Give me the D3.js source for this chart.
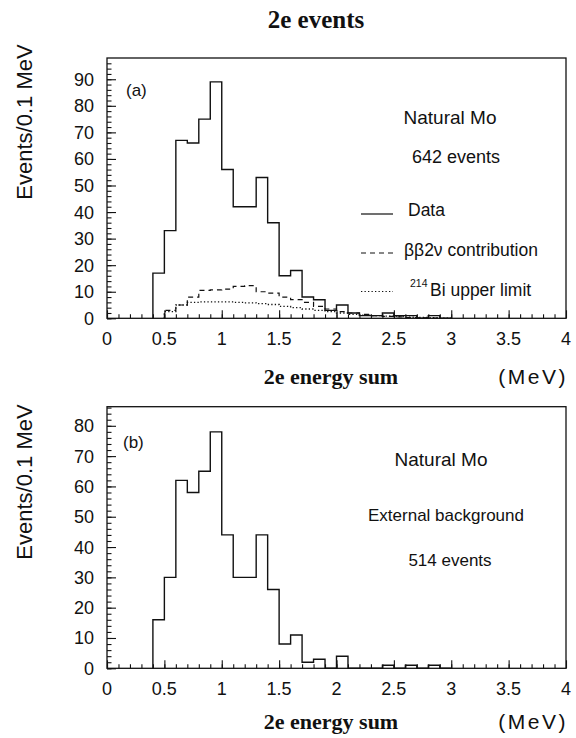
<!DOCTYPE html>
<html>
<head>
<meta charset="utf-8">
<script src="https://cdn.jsdelivr.net/npm/d3@7"></script>
<style>
  html, body { margin: 0; padding: 0; background: #fff; }
  svg { display: block; }
  .sans { font-family: "Liberation Sans", Arial, Helvetica, sans-serif; fill: #111; }
  .serif { font-family: "Liberation Serif", "Times New Roman", serif; font-weight: bold; fill: #111; }
</style>
</head>
<body>
<svg id="chart" width="576" height="738"></svg>
<script>
// ---------- DATA ----------
const binLo = [0.4,0.5,0.6,0.7,0.8,0.9,1.0,1.1,1.2,1.3,1.4,1.5,1.6,1.7,1.8,1.9,2.0,2.1,2.2,2.3,2.4,2.5,2.6,2.7,2.8,2.9];
const binWidth = 0.1;
// (a) Natural Mo, 642 events
const dataA = [17,33,67,66,75,89,56,42,42,53,36,16,18,8,7,3,5,2,1,1,2,1,1,0,1,0];
// ββ2ν contribution (bins starting at 0.5)
const betaLo = [0.5,0.6,0.7,0.8,0.9,1.0,1.1,1.2,1.3,1.4,1.5,1.6,1.7,1.8,1.9,2.0,2.1,2.2,2.3,2.4,2.5,2.6,2.7,2.8];
const betaA = [3,5,8,10.5,10.7,11,12,12.3,10,9.5,8,7,6,4.5,3.5,2.5,2,1.5,1,0.7,0.5,0.3,0.2,0.1];
// 214Bi upper limit (bins starting at 0.5)
const biLo = [0.5,0.6,0.7,0.8,0.9,1.0,1.1,1.2,1.3,1.4,1.5,1.6,1.7,1.8,1.9,2.0,2.1,2.2,2.3,2.4,2.5,2.6,2.7,2.8,2.9];
const biA = [2.5,5,6,6.2,6.2,6.2,6,5.8,5.5,5.2,4.5,4,3.5,3,2.5,2,1.5,1.2,1,0.8,0.6,0.4,0.3,0.2,0.1];
// (b) External background, 514 events
const dataB = [16,30,62,58,65,78,44,30,30,44,26,8,11,2,3,0,4,0,0,0,1,0,1,0,1,0];

const xTicks = [0,0.5,1,1.5,2,2.5,3,3.5,4];
const xTickLabels = ["0","0.5","1","1.5","2","2.5","3","3.5","4"];
const yTicksA = [0,10,20,30,40,50,60,70,80,90];
const yTicksB = [0,10,20,30,40,50,60,70,80];

// ---------- DRAW ----------
const svg = d3.select("#chart");
const sans = "sans";

svg.append("text").attr("class","serif")
  .attr("x", 316).attr("y", 28).attr("text-anchor","middle")
  .attr("font-size", 25).text("2e events");

function stepPoints(lo, vals, w) {
  const pts = [[lo[0], 0]];
  lo.forEach((l, i) => { pts.push([l, vals[i]]); pts.push([l + w, vals[i]]); });
  pts.push([lo[lo.length-1] + w, 0]);
  return pts;
}

function panel(cfg) {
  const g = svg.append("g");
  const x = d3.scaleLinear().domain([0, 4]).range([107, 566]);
  const y = d3.scaleLinear().domain([0, cfg.ymax]).range([cfg.bottom, cfg.top]);

  // frame
  g.append("rect").attr("x", 107).attr("y", cfg.top)
    .attr("width", 566 - 107).attr("height", cfg.bottom - cfg.top)
    .attr("fill", "none").attr("stroke", "#111").attr("stroke-width", 1.3);

  // x ticks (inward)
  const xMinor = d3.range(0, 40).map(i => i / 10);
  const xAxisMinor = d3.axisTop(x).tickValues(xMinor).tickSize(4).tickFormat("");
  const xAxisMajor = d3.axisTop(x).tickValues(xTicks).tickSize(8).tickFormat("");
  [xAxisMinor, xAxisMajor].forEach(ax => {
    const a = g.append("g").attr("transform", `translate(0,${cfg.bottom})`).call(ax);
    a.select(".domain").remove();
    a.selectAll("line").attr("stroke", "#111").attr("stroke-width", 1.1);
  });
  // x tick labels
  g.selectAll(".xl").data(xTicks).enter().append("text")
    .attr("class", sans).attr("x", d => x(d)).attr("y", cfg.bottom + 27)
    .attr("text-anchor", "middle").attr("font-size", 18)
    .text((d, i) => xTickLabels[i]);

  // y ticks (inward)
  const yMinor = d3.range(0, cfg.ymax, 2);
  const yAxisMinor = d3.axisRight(y).tickValues(yMinor).tickSize(4.5).tickFormat("");
  const yAxisMajor = d3.axisRight(y).tickValues(cfg.yTicks).tickSize(9).tickFormat("");
  [yAxisMinor, yAxisMajor].forEach(ax => {
    const a = g.append("g").attr("transform", `translate(107,0)`).call(ax);
    a.select(".domain").remove();
    a.selectAll("line").attr("stroke", "#111").attr("stroke-width", 1.1);
  });
  g.selectAll(".yl").data(cfg.yTicks).enter().append("text")
    .attr("class", sans).attr("x", 94).attr("y", d => y(d) + 6.5)
    .attr("text-anchor", "end").attr("font-size", 18).text(d => d);

  // axis titles
  g.append("text").attr("class", sans)
    .attr("transform", `translate(32,${cfg.ytitleY}) rotate(-90)`)
    .attr("text-anchor", "middle").attr("font-size", 22).text("Events/0.1 MeV");
  g.append("text").attr("class", "serif")
    .attr("x", 331).attr("y", cfg.xtitleY).attr("text-anchor", "middle")
    .attr("font-size", 22).text("2e energy sum");
  g.append("text").attr("class", sans)
    .attr("x", 568).attr("y", cfg.xtitleY).attr("text-anchor", "end")
    .attr("font-size", 21).attr("letter-spacing", 2.5).text("(MeV)");

  const line = d3.line().x(d => x(d[0])).y(d => y(d[1]));

  (cfg.extra || []).forEach(s => {
    g.append("path").attr("d", line(stepPoints(s.lo, s.vals, binWidth)))
      .attr("fill", "none").attr("stroke", "#111").attr("stroke-width", s.sw)
      .attr("stroke-dasharray", s.dash);
  });
  g.append("path").attr("d", line(stepPoints(binLo, cfg.data, binWidth)))
    .attr("fill", "none").attr("stroke", "#111").attr("stroke-width", 1.4);

  g.append("text").attr("class", sans).attr("x", cfg.labelX).attr("y", cfg.labelY)
    .attr("font-size", 17).text(cfg.label);
  return g;
}

const gA = panel({ top: 58, bottom: 318.3, ymax: 98, yTicks: yTicksA, data: dataA,
  ytitleY: 122, xtitleY: 384, label: "(a)", labelX: 126, labelY: 96,
  extra: [
    { lo: betaLo, vals: betaA, dash: "5,4", sw: 1.2 },
    { lo: biLo, vals: biA, dash: "1.3,2.2", sw: 1.3 }
  ] });

const gB = panel({ top: 406.7, bottom: 668.3, ymax: 86.3, yTicks: yTicksB, data: dataB,
  ytitleY: 482, xtitleY: 729, label: "(b)", labelX: 123, labelY: 448 });

// panel (a) annotations & legend
gA.append("text").attr("class", sans).attr("x", 450).attr("y", 124)
  .attr("text-anchor", "middle").attr("font-size", 19).text("Natural Mo");
gA.append("text").attr("class", sans).attr("x", 456).attr("y", 163)
  .attr("text-anchor", "middle").attr("font-size", 18).text("642 events");

const legend = [
  { label: "Data", dash: null, y: 214, ty: 216, tx: 408 },
  { label: "ββ2ν contribution", dash: "5,4", y: 253, ty: 256, tx: 404 },
  { label: "Bi upper limit", dash: "1.3,2.2", y: 291.5, ty: 296, tx: 430, sup: "214", supX: 410 }
];
legend.forEach(l => {
  gA.append("line").attr("x1", 361).attr("x2", 393).attr("y1", l.y).attr("y2", l.y)
    .attr("stroke", "#111").attr("stroke-width", 1.2)
    .attr("stroke-dasharray", l.dash);
  gA.append("text").attr("class", sans).attr("x", l.tx).attr("y", l.ty)
    .attr("font-size", 17.5).text(l.label);
  if (l.sup) {
    gA.append("text").attr("class", sans).attr("x", l.supX).attr("y", l.ty - 9)
      .attr("font-size", 10.5).text(l.sup);
  }
});

// panel (b) annotations
gB.append("text").attr("class", sans).attr("x", 441).attr("y", 466)
  .attr("text-anchor", "middle").attr("font-size", 19).text("Natural Mo");
gB.append("text").attr("class", sans).attr("x", 446).attr("y", 521)
  .attr("text-anchor", "middle").attr("font-size", 17).text("External background");
gB.append("text").attr("class", sans).attr("x", 450).attr("y", 566)
  .attr("text-anchor", "middle").attr("font-size", 17).text("514 events");
</script>
</body>
</html>
